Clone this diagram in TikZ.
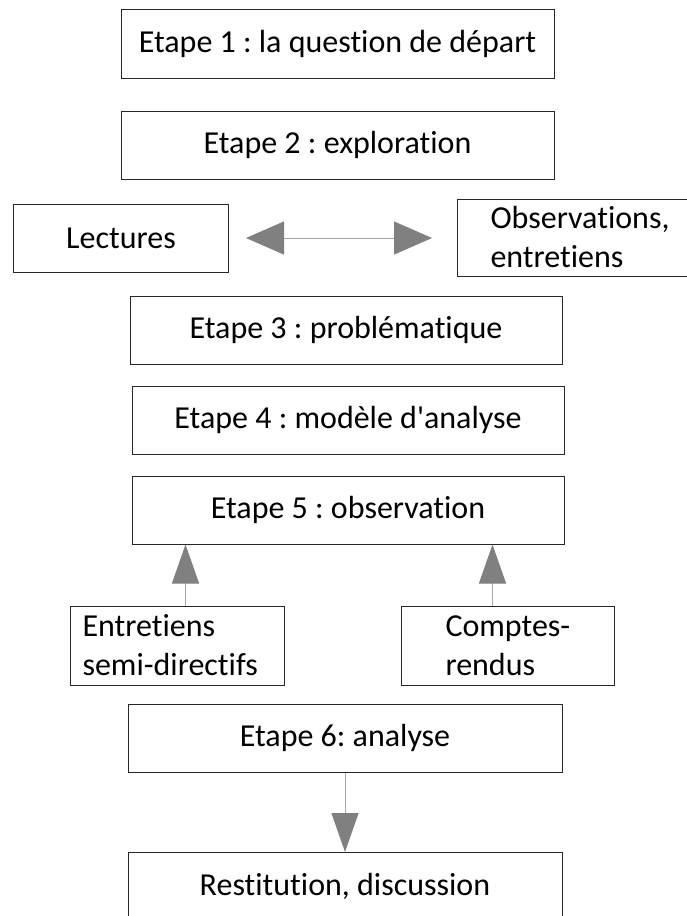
\documentclass[tikz,border=0pt]{standalone}
\usepackage{fontspec}
\setmainfont{Carlito}[Ligatures={NoCommon}]
\usetikzlibrary{arrows.meta}
\frenchspacing
\begin{document}
\begin{tikzpicture}[x=1pt,y=-1pt,
  box/.style={draw=black!85,line width=1pt,inner sep=0pt,font=\fontsize{32}{39}\selectfont},
  lbox/.style={box,align=left,anchor=west},
  conn/.style={draw=black!35,line width=1pt},
  uptip/.style={conn,-{Triangle[length=39pt,width=27pt,color=black!50]}},
  dbl/.style={conn,{Triangle[length=38pt,width=33pt,color=black!50]}-{Triangle[length=38pt,width=33pt,color=black!50]}}
]
\useasboundingbox (0,0) rectangle (687,916);
\clip (0,0) rectangle (687,916);
\node[box,minimum width=433pt,minimum height=69pt] (b1) at (337.5,43.5) {Etape 1 : la question de départ};
\node[box,minimum width=433pt,minimum height=68pt] (b2) at (337.5,145) {Etape 2 : exploration};
\node[box,minimum width=215pt,minimum height=68pt] (lect) at (121,238) {Lectures};
\node[lbox,minimum height=77pt,inner xsep=33pt,text width=220pt] (obs) at (457,237.5) {Observations,\\entretiens};
\node[box,minimum width=432pt,minimum height=68pt] (b3) at (346,330) {Etape 3 : problématique};
\node[box,minimum width=432pt,minimum height=68pt] (b4) at (348,420) {Etape 4 : modèle d\textquotesingle analyse};
\node[box,minimum width=432pt,minimum height=68pt] (b5) at (348,510) {Etape 5 : observation};
\node[lbox,minimum height=79pt,inner xsep=12pt,text width=190pt] (ent) at (70,645.5) {Entretiens\\semi-directifs};
\node[lbox,minimum height=79pt,inner xsep=44pt,text width=125pt] (cr) at (401,645.5) {Comptes-\\rendus};
\node[box,minimum width=434pt,minimum height=68pt] (b6) at (345,738) {Etape 6: analyse};
\node[box,minimum width=434pt,minimum height=80pt,anchor=north] (rest) at (345,852) {};
\node[font=\fontsize{32}{39}\selectfont,inner sep=0pt] (restt) at (345,886) {Restitution, discussion};
\draw[dbl,shorten <=17pt,shorten >=25pt] (lect.east) -- (lect.east -| obs.west);
\draw[uptip] ([xshift=8pt]ent.north) -- ([xshift=8pt]ent.north |- b5.south);
\draw[uptip] ([xshift=-15.5pt]cr.north) -- ([xshift=-15.5pt]cr.north |- b5.south);
\draw[uptip] (b6.south) -- (rest.north);
\end{tikzpicture}
\end{document}
